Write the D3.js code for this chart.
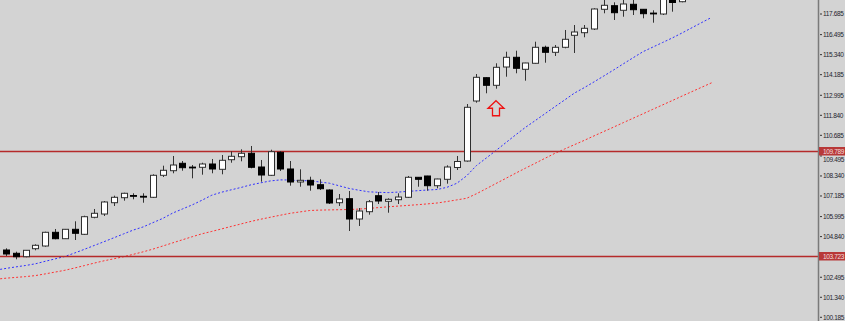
<!DOCTYPE html>
<html>
<head>
<meta charset="utf-8">
<script src="https://cdn.jsdelivr.net/npm/d3@7"></script>
<style>
  body { margin: 0; background: #d3d3d3; overflow: hidden; }
  svg { display: block; }
</style>
</head>
<body>
<div id="chart"></div>
<script>
// bars 0..69 (bars 70..72 are above the visible range)
let opens = [104.068, 103.878, 103.681, 104.143, 104.299, 105.089, 104.72, 105.262, 104.974, 105.955,
  106.145, 106.797, 107.086, 107.213, 107.166, 107.109, 108.378, 108.644, 109.071, 108.851,
  108.84, 109.03, 108.724, 109.278, 109.451, 109.648, 108.857, 108.378, 109.705, 108.742,
  107.992, 108.09, 107.836, 107.53, 106.797, 107.028, 105.857, 106.278, 107.201, 106.878,
  106.97, 107.109, 108.263, 108.338, 107.778, 108.147, 108.828, 109.203, 112.665, 114.01,
  113.571, 114.627, 115.187, 114.494, 114.841, 115.764, 115.475, 115.764, 116.456, 116.606,
  116.82, 117.956, 118.164, 117.899, 118.245, 117.956, 117.737, 117.685, 118.84, 118.395]
let highs = [104.166, 103.97, 104.06, 104.397, 105.124, 105.28, 105.28, 105.724, 106.047, 106.434,
  106.895, 107.201, 107.374, 107.34, 107.34, 108.436, 108.932, 109.492, 109.203, 108.972,
  109.105, 109.319, 109.549, 109.763, 109.878, 110.069, 109.261, 109.855, 109.78, 109.203,
  108.724, 108.297, 108.147, 107.57, 107.299, 107.472, 106.491, 106.953, 107.415, 107.051,
  107.34, 108.338, 108.28, 108.35, 108.18, 108.955, 109.492, 112.492, 114.223, 114.03,
  114.841, 115.51, 115.568, 114.87, 116.087, 115.856, 115.896, 116.762, 117.05, 117.05,
  118.014, 118.608, 118.36, 118.551, 118.55, 117.97, 117.899, 119.07, 119.07, 119.185]
let lows = [103.722, 103.531, 103.647, 104.051, 104.258, 104.685, 104.703, 104.645, 104.933, 105.897,
  106.03, 106.607, 106.913, 106.993, 106.797, 107.068, 108.28, 108.494, 108.644, 108.205,
  108.413, 108.494, 108.436, 109.105, 109.186, 108.782, 108.009, 108.338, 108.626, 107.778,
  107.72, 107.49, 107.53, 106.722, 106.607, 105.164, 105.453, 106.105, 106.722, 106.22,
  106.722, 107.068, 107.72, 107.49, 107.628, 107.894, 108.684, 109.163, 112.567, 113.11,
  113.375, 114.067, 114.264, 113.837, 114.82, 114.875, 115.262, 115.706, 115.435, 116.341,
  116.762, 117.726, 117.339, 117.529, 117.627, 117.437, 117.183, 117.627, 117.818, 118.36]
let closes = [103.837, 103.681, 104.051, 104.339, 105.089, 104.72, 105.262, 105.032, 105.989, 106.186,
  106.838, 107.109, 107.34, 107.19, 107.143, 108.378, 108.667, 108.972, 108.817, 108.828,
  109.03, 108.742, 109.244, 109.474, 109.648, 108.84, 108.395, 109.74, 108.742, 107.992,
  108.09, 107.818, 107.605, 106.78, 107.011, 105.857, 106.318, 106.855, 106.895, 106.993,
  107.126, 108.263, 108.147, 107.778, 108.165, 108.857, 109.174, 112.302, 114.033, 113.571,
  114.61, 115.187, 114.552, 114.858, 115.764, 115.475, 115.764, 116.225, 116.647, 116.86,
  117.974, 118.187, 117.76, 118.262, 117.933, 117.703, 117.714, 118.955, 118.349, 118.955]

// moving averages, bars -1..72
let maFast = [102.914, 103.006, 103.093, 103.174, 103.272, 103.416, 103.554, 103.693, 103.895, 104.108,
  104.328, 104.547, 104.772, 104.997, 105.222, 105.401, 105.649, 105.891, 106.197, 106.434,
  106.67, 106.941, 107.23, 107.403, 107.542, 107.68, 107.83, 107.945, 108.055, 108.113,
  108.107, 108.067, 108.067, 107.992, 107.922, 107.772, 107.622, 107.518, 107.426, 107.397,
  107.38, 107.409, 107.449, 107.49, 107.53, 107.559, 107.686, 107.917, 108.344, 108.938,
  109.371, 109.809, 110.259, 110.709, 111.142, 111.534, 111.933, 112.331, 112.723, 113.121,
  113.433, 113.767, 114.108, 114.454, 114.812, 115.164, 115.51, 115.775, 116.041, 116.306,
  116.595, 116.895, 117.195, 117.489]
let maSlow = [102.383, 102.441, 102.487, 102.533, 102.591, 102.689, 102.793, 102.897, 103.029, 103.168,
  103.312, 103.445, 103.56, 103.681, 103.82, 103.964, 104.12, 104.299, 104.478, 104.657,
  104.835, 105.003, 105.141, 105.285, 105.43, 105.574, 105.718, 105.845, 105.961, 106.076,
  106.186, 106.266, 106.347, 106.37, 106.382, 106.393, 106.405, 106.428, 106.468, 106.514,
  106.561, 106.601, 106.641, 106.682, 106.728, 106.78, 106.866, 106.959, 107.051, 107.311,
  107.605, 107.905, 108.199, 108.499, 108.788, 109.071, 109.359, 109.642, 109.896, 110.144,
  110.392, 110.652, 110.905, 111.159, 111.419, 111.673, 111.927, 112.186, 112.44, 112.694,
  112.954, 113.208, 113.462, 113.715]

let levels = [109.789, 103.723]
let tickValues = [117.685, 116.495, 115.34, 114.185, 112.995, 111.84, 110.685, 109.495,
  108.34, 107.185, 105.995, 104.84, 102.495, 101.34, 100.185]
let arrowBar = 50
let arrowPrice = 112.68

let width = 845
let height = 321
let plotRight = 818

let svg = d3
  .select('#chart')
  .append('svg')
  .attr('width', width)
  .attr('height', height)

svg.append('rect')
  .attr('width', width)
  .attr('height', height)
  .attr('fill', '#d3d3d3')

svg.append('clipPath')
  .attr('id', 'plot-clip')
  .append('rect')
  .attr('width', plotRight)
  .attr('height', height)

let x = d3.scaleLinear().domain([0, 72]).range([6, 711.6])
let y = d3.scaleLinear().domain([100.185, 117.685]).range([317.3, 14])

let plot = svg.append('g').attr('clip-path', 'url(#plot-clip)')

// moving averages
let line = d3.line()
  .x((d, i) => x(i - 1))
  .y(d => y(d))

plot.append('path')
  .datum(maSlow)
  .attr('d', line)
  .attr('fill', 'none')
  .attr('stroke', '#ff3030')
  .attr('stroke-width', 1)
  .attr('stroke-dasharray', '2,2')

plot.append('path')
  .datum(maFast)
  .attr('d', line)
  .attr('fill', 'none')
  .attr('stroke', '#3030ff')
  .attr('stroke-width', 1)
  .attr('stroke-dasharray', '2,2')

// horizontal levels
plot.selectAll('.level')
  .data(levels)
  .enter()
  .append('line')
  .attr('class', 'level')
  .attr('x1', 0)
  .attr('x2', plotRight)
  .attr('y1', d => Math.round(y(d)) + 0.5)
  .attr('y2', d => Math.round(y(d)) + 0.5)
  .attr('stroke', '#b52a2a')
  .attr('stroke-width', 1.3)

// candles
let bars = opens.map((o, i) => ({ i: i, o: o, h: highs[i], l: lows[i], c: closes[i] }))

let candle = plot.selectAll('.candle')
  .data(bars)
  .enter()
  .append('g')
  .attr('class', 'candle')

candle.append('line')
  .attr('x1', d => Math.round(x(d.i)) + 0.5)
  .attr('x2', d => Math.round(x(d.i)) + 0.5)
  .attr('y1', d => y(d.h))
  .attr('y2', d => y(d.l))
  .attr('stroke', '#333')
  .attr('stroke-width', 1)

candle.append('rect')
  .attr('x', d => Math.round(x(d.i)) - 2.5)
  .attr('width', 6)
  .attr('y', d => y(Math.max(d.o, d.c)))
  .attr('height', d => Math.max(0.8, Math.abs(y(d.o) - y(d.c))))
  .attr('fill', d => (d.c >= d.o ? '#ffffff' : '#000000'))
  .attr('stroke', d => (d.c >= d.o ? '#2e2e2e' : '#000000'))
  .attr('stroke-width', 1)

// up arrow
let ax = x(arrowBar)
let ay = y(arrowPrice)
let arrowPts = [
  [0, 0], [8, 7.5], [3.5, 7.5], [3.5, 15], [-3.5, 15], [-3.5, 7.5], [-8, 7.5]
]
plot.append('polygon')
  .attr('points', arrowPts.map(p => [ax + p[0], ay + p[1]].join(',')).join(' '))
  .attr('fill', 'none')
  .attr('stroke', '#ee1111')
  .attr('stroke-width', 1.3)

// price axis
svg.append('line')
  .attr('x1', plotRight + 0.5)
  .attr('x2', plotRight + 0.5)
  .attr('y1', 0)
  .attr('y2', height)
  .attr('stroke', '#7a7a7a')
  .attr('stroke-width', 1.5)

let ticks = svg.selectAll('.tick')
  .data(tickValues)
  .enter()
  .append('g')
  .attr('class', 'tick')
  .attr('transform', d => `translate(0,${y(d)})`)

ticks.append('line')
  .attr('x1', 820)
  .attr('x2', 822)
  .attr('stroke', '#333')

// labels that sit right under a level tag are pushed just below it
let nudge = d => {
  let near = levels.find(l => Math.abs(y(l) - y(d)) < 8)
  return near === undefined ? 0 : Math.max(0, y(near) + 8.5 - y(d))
}

ticks.append('text')
  .text(d => d.toFixed(3))
  .attr('x', 823)
  .attr('y', d => nudge(d))
  .attr('dy', '0.35em')
  .attr('font-family', 'Liberation Sans, Arial, sans-serif')
  .attr('font-size', '6.5px')
  .attr('letter-spacing', '-0.35px')
  .attr('fill', '#1e1e2e')

// level labels
let tags = svg.selectAll('.tag')
  .data(levels)
  .enter()
  .append('g')
  .attr('class', 'tag')
  .attr('transform', d => `translate(0,${Math.round(y(d)) + 0.5})`)

tags.append('rect')
  .attr('x', 819)
  .attr('y', -4.5)
  .attr('width', 26)
  .attr('height', 8.5)
  .attr('fill', '#b83838')

tags.append('text')
  .text(d => d.toFixed(3))
  .attr('x', 823)
  .attr('dy', '0.33em')
  .attr('font-family', 'Liberation Sans, Arial, sans-serif')
  .attr('font-size', '6.5px')
  .attr('letter-spacing', '-0.35px')
  .attr('fill', '#f3dede')
</script>
</body>
</html>
